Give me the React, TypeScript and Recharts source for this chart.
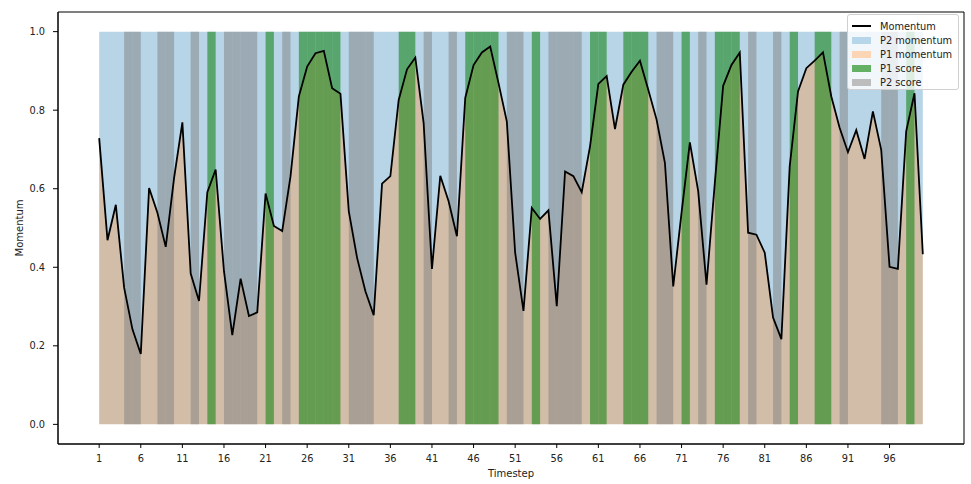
import {
  ComposedChart,
  Area,
  Line,
  XAxis,
  YAxis,
  ReferenceArea,
  Label,
} from 'recharts';

// momentum per timestep (1..100)
const momentum = [
  0.729, 0.469, 0.559, 0.348, 0.242, 0.179, 0.602, 0.539, 0.452, 0.627,
  0.769, 0.384, 0.314, 0.591, 0.649, 0.39, 0.227, 0.371, 0.276, 0.285,
  0.588, 0.505, 0.492, 0.632, 0.835, 0.911, 0.945, 0.951, 0.856, 0.842,
  0.543, 0.424, 0.339, 0.278, 0.613, 0.632, 0.826, 0.904, 0.934, 0.767,
  0.396, 0.633, 0.568, 0.479, 0.831, 0.915, 0.947, 0.962, 0.869, 0.771,
  0.437, 0.289, 0.551, 0.523, 0.545, 0.301, 0.644, 0.632, 0.591, 0.708,
  0.867, 0.887, 0.752, 0.865, 0.898, 0.926, 0.852, 0.776, 0.666, 0.351,
  0.539, 0.718, 0.594, 0.356, 0.615, 0.862, 0.915, 0.947, 0.488, 0.483,
  0.437, 0.272, 0.217, 0.657, 0.848, 0.907, 0.926, 0.947, 0.835, 0.755,
  0.693, 0.749, 0.676, 0.797, 0.699, 0.401, 0.396, 0.746, 0.843, 0.433,
];

// timesteps where each player won the point
const p1ScoreSteps = [14, 21, 25, 26, 27, 28, 29, 37, 38, 45, 46, 47, 48, 53, 60, 61, 64, 65, 66, 71, 75, 76, 77, 84, 87, 88, 98];
const p2ScoreSteps = [4, 5, 8, 9, 12, 16, 17, 18, 19, 23, 31, 32, 33, 40, 43, 50, 51, 55, 56, 57, 58, 68, 69, 73, 79, 82, 90, 95, 96];

const xTicks = [1, 6, 11, 16, 21, 26, 31, 36, 41, 46, 51, 56, 61, 66, 71, 76, 81, 86, 91, 96];
const yTicks = [0, 0.2, 0.4, 0.6, 0.8, 1.0];

const xDomain: [number, number] = [-3.95, 104.95];
const yDomain: [number, number] = [-0.05, 1.05];

const data = momentum.map((m, i) => ({
  t: i + 1,
  m,
  p1: m,
  p2: 1 - m,
}));

const FONT = '"DejaVu Sans", sans-serif';

const legendItems = [
  { label: 'Momentum', kind: 'line', color: '#000' },
  { label: 'P2 momentum', kind: 'patch', color: '#b8d6ea' },
  { label: 'P1 momentum', kind: 'patch', color: '#fcd6b4' },
  { label: 'P1 score', kind: 'patch', color: '#64b064' },
  { label: 'P2 score', kind: 'patch', color: '#bdbdbd' },
];

const XLabel = ({ viewBox }: any) => (
  <text
    x={viewBox.x + viewBox.width / 2}
    y={viewBox.y + 33}
    textAnchor="middle"
    fontSize={10}
    fontFamily={FONT}
    fill="#222"
  >
    Timestep
  </text>
);

const YLabel = ({ viewBox }: any) => {
  const x = viewBox.x + 11;
  const y = viewBox.y + viewBox.height / 2;
  return (
    <text
      x={x}
      y={y}
      transform={`rotate(-90, ${x}, ${y})`}
      textAnchor="middle"
      dominantBaseline="central"
      fontSize={10}
      fontFamily={FONT}
      fill="#222"
    >
      Momentum
    </text>
  );
};

export default function App() {
  const tickStyle = { fontSize: 9.8, fontFamily: FONT, fill: '#222' };

  return (
    <div style={{ position: 'absolute', left: 0, top: 0, width: 971, height: 484, background: '#fff' }}>
      <ComposedChart
        width={971}
        height={484}
        data={data}
        margin={{ top: 12, right: 7, left: 8, bottom: 10 }}
      >
        <XAxis
          dataKey="t"
          type="number"
          domain={xDomain}
          ticks={xTicks}
          allowDataOverflow
          height={30}
          tickSize={4}
          tickMargin={7}
          tick={tickStyle}
          stroke="#000"
          interval={0}
        >
          <Label content={<XLabel />} />
        </XAxis>
        <YAxis
          type="number"
          domain={yDomain}
          ticks={yTicks}
          allowDataOverflow
          width={50}
          tickSize={5}
          tickMargin={8}
          tick={tickStyle}
          tickFormatter={(v: number) => v.toFixed(1)}
          stroke="#000"
        >
          <Label content={<YLabel />} />
        </YAxis>

        {/* P1 momentum below the line, P2 momentum above it */}
        <Area
          type="linear"
          dataKey="p1"
          stackId="mom"
          stroke="none"
          fill="#d2bea8"
          fillOpacity={1}
          isAnimationActive={false}
        />
        <Area
          type="linear"
          dataKey="p2"
          stackId="mom"
          stroke="none"
          fill="#b8d5e8"
          fillOpacity={1}
          isAnimationActive={false}
        />

        {p1ScoreSteps.map((s) => (
          <ReferenceArea
            key={`p1-${s}`}
            x1={s}
            x2={s + 1}
            y1={0}
            y2={1}
            fill="#0a800a"
            fillOpacity={0.55}
            stroke="none"
          />
        ))}
        {p2ScoreSteps.map((s) => (
          <ReferenceArea
            key={`p2-${s}`}
            x1={s}
            x2={s + 1}
            y1={0}
            y2={1}
            fill="#7f7f7f"
            fillOpacity={0.5}
            stroke="none"
          />
        ))}

        <Line
          type="linear"
          dataKey="m"
          stroke="#000"
          strokeWidth={1.8}
          dot={false}
          isAnimationActive={false}
        />

        {/* axes frame */}
        <ReferenceArea
          x1={xDomain[0]}
          x2={xDomain[1]}
          y1={yDomain[0]}
          y2={yDomain[1]}
          fill="none"
          stroke="#000"
          strokeWidth={1}
          ifOverflow="visible"
        />
      </ComposedChart>

      <div
        style={{
          position: 'absolute',
          left: 847,
          top: 14,
          width: 112,
          height: 76,
          boxSizing: 'border-box',
          background: 'rgba(255,255,255,0.8)',
          border: '1px solid #d0d0d0',
          borderRadius: 3,
          fontFamily: FONT,
          fontSize: 9.8,
          color: '#222',
        }}
      >
        {legendItems.map((it, i) => (
          <div
            key={it.label}
            style={{ position: 'absolute', left: 0, top: 4 + i * 14, height: 14, display: 'flex', alignItems: 'center' }}
          >
            {it.kind === 'line' ? (
              <div style={{ marginLeft: 4, width: 19, height: 1.5, background: it.color }} />
            ) : (
              <div style={{ marginLeft: 4, width: 19, height: 7, background: it.color }} />
            )}
            <span style={{ marginLeft: 9, whiteSpace: 'nowrap' }}>{it.label}</span>
          </div>
        ))}
      </div>
    </div>
  );
}
